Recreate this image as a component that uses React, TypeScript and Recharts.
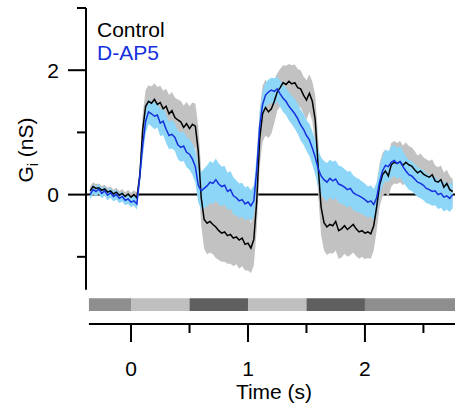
import { ComposedChart, Area, Line, XAxis, YAxis, ReferenceLine, ReferenceArea } from "recharts"

// samples every 25 ms starting at -350 ms
const t0 = -0.35
const dt = 0.025

const controlMean = [
  0.06, 0.13, 0.1, 0.11, 0.07, 0.09, 0.04, 0.06, 0.01, 0.04,
  -0.01, 0.02, -0.03, 0.01, -0.04, 0.0, -0.05, 0.3, 1.05, 1.42,
  1.5, 1.47, 1.53, 1.45, 1.48, 1.38, 1.42, 1.3, 1.35, 1.24,
  1.2, 1.17, 1.08, 1.14, 1.06, 1.13, 1.1, 0.7, -0.05, -0.4,
  -0.46, -0.43, -0.48, -0.52, -0.58, -0.62, -0.6, -0.66, -0.64, -0.7,
  -0.68, -0.73, -0.7, -0.8, -0.78, -0.86, -0.72, -0.1, 0.9, 1.3,
  1.4, 1.33, 1.38, 1.5, 1.65, 1.72, 1.8, 1.77, 1.82, 1.78,
  1.8, 1.72, 1.7, 1.6, 1.52, 1.63, 1.5, 1.2, 0.45, -0.2,
  -0.45, -0.52, -0.48, -0.5, -0.43, -0.58, -0.55, -0.5, -0.56, -0.52,
  -0.48, -0.55, -0.6, -0.58, -0.62, -0.6, -0.63, -0.5, -0.2, 0.15,
  0.32, 0.38, 0.3, 0.48, 0.52, 0.5, 0.53, 0.47, 0.52, 0.48,
  0.46, 0.4, 0.35, 0.38, 0.33, 0.3, 0.28, 0.32, 0.22, 0.2,
  0.24, 0.12, 0.18, 0.08, 0.05,
]

const controlSem = [
  0.07, 0.07, 0.07, 0.07, 0.07, 0.07, 0.07, 0.07, 0.07, 0.07,
  0.07, 0.07, 0.07, 0.07, 0.07, 0.07, 0.08, 0.15, 0.25, 0.26,
  0.26, 0.27, 0.26, 0.28, 0.27, 0.29, 0.28, 0.3, 0.3, 0.32,
  0.33, 0.34, 0.35, 0.35, 0.36, 0.35, 0.36, 0.4, 0.45, 0.47,
  0.5, 0.5, 0.48, 0.5, 0.47, 0.46, 0.48, 0.45, 0.47, 0.45,
  0.44, 0.46, 0.45, 0.42, 0.44, 0.4, 0.42, 0.45, 0.45, 0.45,
  0.45, 0.42, 0.4, 0.35, 0.3, 0.3, 0.28, 0.3, 0.28, 0.3,
  0.29, 0.3, 0.3, 0.3, 0.32, 0.3, 0.32, 0.4, 0.45, 0.45,
  0.45, 0.45, 0.46, 0.45, 0.47, 0.45, 0.46, 0.45, 0.44, 0.45,
  0.45, 0.44, 0.43, 0.42, 0.42, 0.42, 0.4, 0.4, 0.38, 0.35,
  0.35, 0.35, 0.34, 0.35, 0.34, 0.33, 0.33, 0.32, 0.32, 0.3,
  0.3, 0.3, 0.28, 0.28, 0.27, 0.27, 0.26, 0.25, 0.25, 0.24,
  0.23, 0.23, 0.22, 0.22, 0.2,
]

const ap5Mean = [
  0.0, 0.08, 0.05, 0.09, 0.02, 0.06, -0.01, 0.03, -0.03, 0.0,
  -0.06, -0.03, -0.09, -0.07, -0.12, -0.1, -0.15, 0.3, 0.8, 1.18,
  1.33, 1.3, 1.26, 1.28, 1.15, 1.18, 1.05, 0.95, 0.97, 0.92,
  0.8, 0.76, 0.78, 0.68, 0.65, 0.57, 0.45, 0.15, 0.06, 0.1,
  0.14, 0.2, 0.18, 0.24, 0.17, 0.13, 0.15, 0.05, 0.08, -0.02,
  -0.05, -0.1, -0.08, -0.15, -0.12, -0.18, -0.1, 0.4, 1.1, 1.45,
  1.6, 1.65, 1.68, 1.66, 1.7, 1.62, 1.55, 1.5, 1.42, 1.36,
  1.3, 1.22, 1.12, 1.05, 0.95, 0.88, 0.75, 0.6, 0.42, 0.3,
  0.24, 0.2, 0.26, 0.22, 0.25, 0.17, 0.15, 0.12, 0.08, 0.1,
  0.03, 0.0, -0.02, -0.05, -0.08, -0.12, -0.1, -0.16, -0.05, 0.2,
  0.38, 0.47, 0.45, 0.52, 0.55, 0.5, 0.53, 0.45, 0.38, 0.32,
  0.3, 0.25, 0.2, 0.18, 0.15, 0.1, 0.08, 0.05, 0.06, 0.0,
  0.02, -0.04, -0.02, -0.06, 0.0,
]

const ap5Sem = [
  0.08, 0.08, 0.08, 0.08, 0.08, 0.08, 0.08, 0.08, 0.08, 0.08,
  0.08, 0.08, 0.08, 0.08, 0.08, 0.08, 0.09, 0.15, 0.2, 0.2,
  0.2, 0.2, 0.21, 0.2, 0.21, 0.22, 0.22, 0.22, 0.23, 0.22,
  0.23, 0.23, 0.24, 0.24, 0.25, 0.25, 0.26, 0.28, 0.3, 0.32,
  0.33, 0.34, 0.33, 0.34, 0.33, 0.32, 0.31, 0.3, 0.3, 0.3,
  0.28, 0.28, 0.27, 0.27, 0.26, 0.25, 0.25, 0.25, 0.22, 0.21,
  0.2, 0.2, 0.2, 0.21, 0.2, 0.21, 0.22, 0.22, 0.23, 0.23,
  0.24, 0.24, 0.25, 0.25, 0.25, 0.26, 0.27, 0.28, 0.3, 0.3,
  0.3, 0.31, 0.3, 0.31, 0.3, 0.3, 0.3, 0.29, 0.29, 0.28,
  0.28, 0.27, 0.27, 0.26, 0.26, 0.25, 0.25, 0.25, 0.24, 0.24,
  0.24, 0.25, 0.25, 0.25, 0.25, 0.25, 0.25, 0.25, 0.24, 0.24,
  0.24, 0.24, 0.24, 0.24, 0.24, 0.24, 0.23, 0.23, 0.23, 0.23,
  0.23, 0.23, 0.22, 0.22, 0.22,
]

// stimulus bar under the traces
const stimEdges = [-0.36, 0, 0.5, 1, 1.5, 2, 2.77]
const stimShades = ["#8e8e8e", "#bfbfbf", "#5f5f5f", "#bfbfbf", "#5f5f5f", "#8e8e8e"]

const xTicks = [0, 0.5, 1, 1.5, 2, 2.5]
const xLabelled = [0, 1, 2]
const yTicks = [-1, 0, 1, 2, 3]
const yLabelled = [0, 2]

const data = controlMean.map((c, i) => ({
  t: +(t0 + i * dt).toFixed(3),
  control: c,
  controlBand: [c - controlSem[i], c + controlSem[i]],
  ap5: ap5Mean[i],
  ap5Band: [ap5Mean[i] - ap5Sem[i], ap5Mean[i] + ap5Sem[i]],
}))

const FONT = "'Liberation Sans', Arial, Helvetica, sans-serif"
const BLUE = "#1530dc"
const X_MIN = -0.385
const X_MAX = 2.77
const Y_MIN = -2.08
const Y_MAX = 3
const Y_AXIS_BOTTOM = -1.53
const STIM_TOP = -1.665
const STIM_BOTTOM = -1.872

const XTick = (props: any) => {
  const { x, y, payload } = props
  const major = xLabelled.includes(payload.value)
  return (
    <g>
      <line x1={x} x2={x} y1={y} y2={y + (major ? 18 : 9)} stroke="#000" strokeWidth={2} />
      {major && (
        <text x={x} y={y + 52} textAnchor="middle" fontSize={21} fontFamily={FONT} fill="#000">
          {payload.value}
        </text>
      )}
    </g>
  )
}

const YTick = (props: any) => {
  const { x, y, payload } = props
  const major = yLabelled.includes(payload.value)
  const len = major ? 18 : 9
  return (
    <g>
      <line x1={x - len} x2={x} y1={y} y2={y} stroke="#000" strokeWidth={2} />
      {major && (
        <text x={x - len - 9} y={y} dy="0.36em" textAnchor="end" fontSize={21} fontFamily={FONT} fill="#000">
          {payload.value}
        </text>
      )}
    </g>
  )
}

export default function App() {
  return (
    <div style={{ position: "absolute", left: 0, top: 0, width: 455, height: 404, fontFamily: FONT }}>
      <ComposedChart width={455} height={404} data={data} margin={{ top: 8, right: 0, left: 26, bottom: 0 }}>
        <XAxis
          dataKey="t"
          type="number"
          domain={[X_MIN, X_MAX]}
          allowDataOverflow
          ticks={xTicks}
          interval={0}
          axisLine={false}
          tickLine={false}
          tickSize={0}
          tickMargin={0}
          height={80}
          tick={XTick}
        />
        <YAxis
          type="number"
          domain={[Y_MIN, Y_MAX]}
          allowDataOverflow
          ticks={yTicks}
          interval={0}
          axisLine={false}
          tickLine={false}
          tickSize={0}
          tickMargin={0}
          width={60}
          tick={YTick}
        />
        <ReferenceLine y={0} stroke="#000" strokeWidth={2} zIndex={50} />
        {stimShades.map((fill, i) => (
          <ReferenceArea
            key={i}
            x1={stimEdges[i]}
            x2={stimEdges[i + 1]}
            y1={STIM_BOTTOM}
            y2={STIM_TOP}
            fill={fill}
            fillOpacity={1}
            stroke="none"
          />
        ))}
        <Area dataKey="controlBand" type="linear" stroke="none" fill="#c2c2c2" fillOpacity={1} isAnimationActive={false} />
        <Area dataKey="ap5Band" type="linear" stroke="none" fill="#8ed6f8" fillOpacity={1} isAnimationActive={false} />
        <Line dataKey="control" type="linear" stroke="#000" strokeWidth={1.5} dot={false} isAnimationActive={false} />
        <Line dataKey="ap5" type="linear" stroke={BLUE} strokeWidth={1.5} dot={false} isAnimationActive={false} />
        <ReferenceLine
          segment={[{ x: X_MIN, y: Y_AXIS_BOTTOM }, { x: X_MIN, y: Y_MAX }]}
          stroke="#000"
          strokeWidth={2}
        />
        <ReferenceLine
          segment={[{ x: -0.36, y: Y_MIN }, { x: X_MAX, y: Y_MIN }]}
          stroke="#000"
          strokeWidth={2}
        />
      </ComposedChart>
      <svg width={455} height={404} style={{ position: "absolute", left: 0, top: 0, pointerEvents: "none" }}>
        <text transform="translate(33,150) rotate(-90)" textAnchor="middle" fontSize={21} fontFamily={FONT} fill="#000">
          G<tspan fontSize={14} dy={5}>i</tspan>
          <tspan dy={-5}> (nS)</tspan>
        </text>
        <text x={274} y={399} textAnchor="middle" fontSize={21} fontFamily={FONT} fill="#000">
          Time (s)
        </text>
        <text x={97} y={37} fontSize={21} fontFamily={FONT} fill="#000">
          Control
        </text>
        <text x={97} y={60} fontSize={21} fontFamily={FONT} fill={BLUE}>
          D-AP5
        </text>
      </svg>
    </div>
  )
}
